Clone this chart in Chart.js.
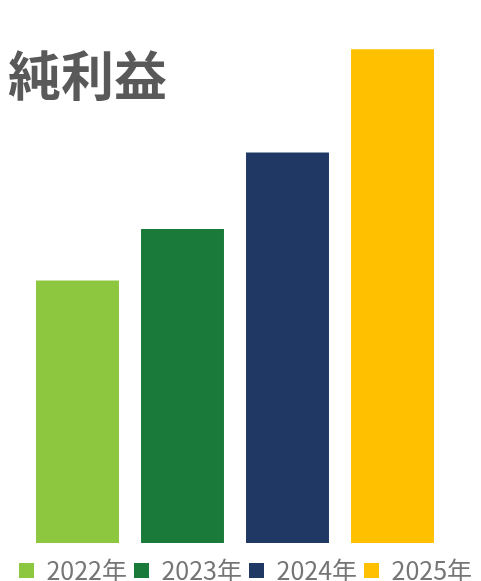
<!DOCTYPE html>
<html>
<head>
<meta charset="utf-8">
<script src="https://cdn.jsdelivr.net/npm/chart.js@4/dist/chart.umd.min.js"></script>
<style>
html,body{margin:0;padding:0;background:#fff;overflow:hidden;}
#wrap{position:relative;width:481px;height:593px;}
</style>
</head>
<body>
<div id="wrap"><canvas id="c"></canvas></div>
<script>
const titleText = '純利益';
const categories = ['2022年', '2023年', '2024年', '2025年'];
const values = [53.2, 63.6, 79.1, 100];
const barColors = ['#8DC63F', '#1A7A3A', '#1F3864', '#FFC000'];

const titlePlugin = {
  id: 'leftTitle',
  afterDraw(chart) {
    const ctx = chart.ctx;
    ctx.save();
    ctx.font = 'bold 53px "Noto Sans CJK JP"';
    ctx.fillStyle = '#595959';
    ctx.textAlign = 'left';
    ctx.textBaseline = 'alphabetic';
    ctx.fillText(titleText, 8, 96);
    ctx.restore();
  }
};

new Chart(document.getElementById('c'), {
  type: 'bar',
  data: {
    labels: categories,
    datasets: [{
      data: values,
      backgroundColor: barColors,
      borderWidth: 0,
      categoryPercentage: 1,
      barPercentage: 0.79
    }]
  },
  options: {
    responsive: true,
    maintainAspectRatio: false,
    animation: false,
    layout: { padding: { left: 10, right: 0, top: 0, bottom: 0 } },
    scales: {
      x: {
        display: true,
        grid: { display: false },
        border: { display: false },
        ticks: { display: false },
        afterFit(s) { s.height = 8; }
      },
      y: {
        display: true,
        min: 0,
        max: 110,
        grid: { display: false },
        border: { display: false },
        ticks: { display: false },
        afterFit(s) { s.width = 15; }
      },
      y2: {
        position: 'right',
        display: true,
        grid: { display: false },
        border: { display: false },
        ticks: { display: false },
        afterFit(s) { s.width = 36; }
      }
    },
    plugins: {
      tooltip: { enabled: false },
      title: { display: false },
      legend: {
        position: 'bottom',
        onClick: null,
        labels: {
          font: { size: 25, family: '"Noto Sans CJK JP"' },
          color: '#757575',
          boxWidth: 15,
          boxHeight: 15,
          padding: 7,
          generateLabels(chart) {
            return categories.map((c, i) => ({
              text: c,
              fillStyle: barColors[i],
              strokeStyle: barColors[i],
              lineWidth: 0,
              hidden: false,
              index: i,
              datasetIndex: 0,
              fontColor: '#757575'
            }));
          }
        }
      }
    }
  },
  plugins: [titlePlugin]
});
</script>
</body>
</html>
